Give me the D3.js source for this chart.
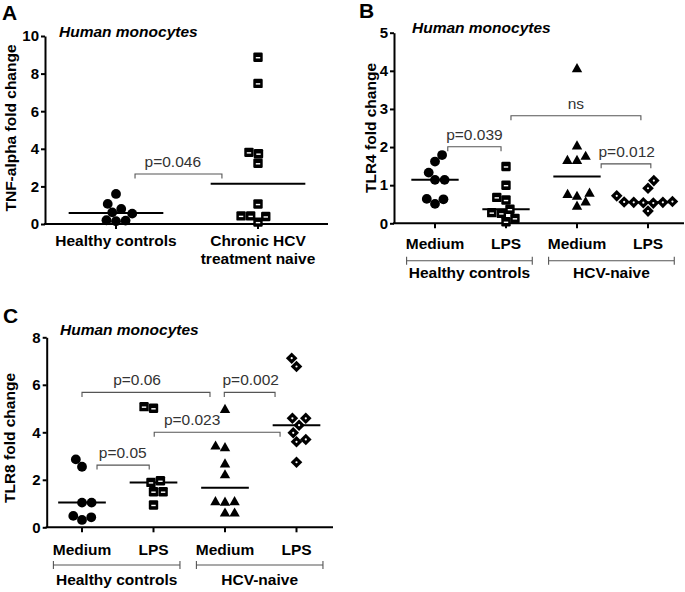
<!DOCTYPE html>
<html>
<head>
<meta charset="utf-8">
<script src="https://cdn.jsdelivr.net/npm/d3@7"></script>
<style>
  html, body { margin: 0; padding: 0; background: #fff; }
  svg { display: block; }
</style>
</head>
<body>
<svg id="chart" width="685" height="592"></svg>
<script>
// ---------------- DATA ----------------
// Panel A: TNF-alpha fold change
const panelA_categories = [["Healthy controls"], ["Chronic HCV", "treatment naive"]];
const panelA_healthy = [1.6, 1.07, 0.8, 0.62, 0.55, 0.2, 0.15, 0.18];
const panelA_chronic = [8.87, 7.48, 3.81, 3.74, 3.23, 1.06, 0.43, 0.1, 0.4, 0.43];
const panelA_ticks = [0, 2, 4, 6, 8, 10];
const panelA_brackets = [{ from: 0.134, to: 0.746, y: 2.66, label: "p=0.046", at: 0.40 }];

// Panel B: TLR4 fold change
const panelB_categories = [["Medium"], ["LPS"], ["Medium"], ["LPS"]];
const panelB_groups = [{ label: "Healthy controls", from: 0, to: 1 }, { label: "HCV-naive", from: 2, to: 3 }];
const panelB_hcMedium = [1.79, 1.62, 1.33, 1.14, 1.14, 0.64, 0.51, 0.63];
const panelB_hcLPS = [1.49, 1.0, 0.61, 0.68, 0.37, 0.26, 0.28, 0.04, 0.13];
const panelB_hcvMedium = [4.07, 2.04, 1.77, 1.66, 1.66, 0.72, 0.8, 0.77, 0.46, 0.57];
const panelB_hcvLPS = [1.12, 0.92, 0.72, 0.56, 0.55, 0.55, 0.54, 0.57, 0.53, 0.32];
const panelB_ticks = [0, 1, 2, 3, 4, 5];
const panelB_brackets = [
  { from: 0.18, to: 0.93, y: 2.01, label: "p=0.039", at: 0.555 },
  { from: 1.07, to: 2.90, y: 2.82, label: "ns", at: 1.985 },
  { from: 2.34, to: 3.04, y: 1.56, label: "p=0.012", at: 2.70 }
];

// Panel C: TLR8 fold change
const panelC_categories = [["Medium"], ["LPS"], ["Medium"], ["LPS"]];
const panelC_groups = [{ label: "Healthy controls", from: 0, to: 1 }, { label: "HCV-naive", from: 2, to: 3 }];
const panelC_hcMedium = [2.86, 2.55, 1.04, 1.04, 0.48, 0.31, 0.42];
const panelC_hcLPS = [5.01, 5.08, 1.96, 1.89, 1.5, 1.5, 0.94];
const panelC_hcvMedium = [4.98, 3.44, 3.37, 2.69, 2.23, 1.1, 1.08, 1.1, 0.62, 0.62];
const panelC_hcvLPS = [7.12, 6.77, 4.59, 4.59, 4.3, 3.7, 3.6, 3.98, 2.74];
const panelC_ticks = [0, 2, 4, 6, 8];
const panelC_brackets = [
  { from: 0.0, to: 1.79, y: 5.68, label: "p=0.06", at: 0.77 },
  { from: 1.99, to: 2.70, y: 5.68, label: "p=0.002", at: 2.36 },
  { from: 1.01, to: 2.77, y: 4.0, label: "p=0.023", at: 1.54 },
  { from: 0.21, to: 0.94, y: 2.62, label: "p=0.05", at: 0.57 }
];

// ---------------- DRAWING ----------------
const FONT = "'Liberation Sans', Arial, Helvetica, sans-serif";
const svg = d3.select("#chart");
svg.append("rect").attr("width", 685).attr("height", 592).attr("fill", "#fff");

function beeswarm(vals, y, d) {
  const pts = vals.map((v, i) => ({ v, y: y(v), i }));
  const order = pts.slice().sort((a, b) => a.v - b.v);
  const placed = [];
  let side = 1;
  for (const p of order) {
    const cands = [0];
    for (const q of placed) {
      const dy = Math.abs(q.y - p.y);
      if (dy < d) {
        const dx = Math.sqrt(d * d - dy * dy);
        cands.push(q.x + dx, q.x - dx);
      }
    }
    const ok = cands.filter(x => placed.every(q => (q.x - x) ** 2 + (q.y - p.y) ** 2 >= d * d - 0.01));
    ok.sort((a, b) => {
      const da = Math.abs(a), db = Math.abs(b);
      if (Math.abs(da - db) < 0.01) return side > 0 ? b - a : a - b;
      return da - db;
    });
    p.x = ok[0];
    if (Math.abs(p.x) > 0.01) side = -Math.sign(p.x);
    placed.push(p);
  }
  return pts;
}

function marker(g, shape, cx, cy) {
  if (shape === "circle") {
    g.append("circle").attr("cx", cx).attr("cy", cy).attr("r", 4.9).attr("fill", "#000");
  } else if (shape === "square") {
    g.append("rect").attr("x", cx - 4.7).attr("y", cy - 4.7).attr("width", 9.4).attr("height", 9.4)
      .attr("rx", 1.2).attr("fill", "#000");
    g.append("rect").attr("x", cx - 2.2).attr("y", cy - 0.2).attr("width", 4.4).attr("height", 1.4).attr("fill", "#fff");
  } else if (shape === "triangle") {
    g.append("path").attr("d", `M${cx},${cy - 5.2}L${cx + 5.2},${cy + 4}L${cx - 5.2},${cy + 4}Z`).attr("fill", "#000");
  } else if (shape === "diamond") {
    const r = 5.8;
    g.append("path").attr("d", `M${cx},${cy - r}L${cx + r},${cy}L${cx},${cy + r}L${cx - r},${cy}Z`).attr("fill", "#000");
    g.append("circle").attr("cx", cx).attr("cy", cy).attr("r", 1.1).attr("fill", "#fff");
  }
}

function drawPanel(cfg) {
  const g = svg.append("g");
  const y = d3.scaleLinear().domain([0, cfg.yMax]).range([cfg.y0, cfg.y1]);
  const x = d3.scaleLinear().domain([0, 1]).range([cfg.c0, cfg.c0 + cfg.step]);

  // panel letter
  g.append("text").attr("x", cfg.letter[0]).attr("y", cfg.letter[1]).text(cfg.letterText)
    .attr("font-family", FONT).attr("font-weight", "bold").attr("font-size", 21).attr("fill", "#000");
  // title
  g.append("text").attr("x", cfg.title[0]).attr("y", cfg.title[1]).text("Human monocytes")
    .attr("font-family", FONT).attr("font-weight", "bold").attr("font-style", "italic")
    .attr("font-size", 15.5).attr("fill", "#000");
  // y label
  g.append("text").attr("transform", `translate(${cfg.ylab[0]},${cfg.ylab[1]}) rotate(-90)`)
    .attr("text-anchor", "middle").text(cfg.yLabel)
    .attr("font-family", FONT).attr("font-weight", "bold").attr("font-size", 15.5).attr("fill", "#000");

  // y axis
  const ya = g.append("g").attr("transform", `translate(${cfg.ax},0)`)
    .call(d3.axisLeft(y).tickValues(cfg.ticks).tickFormat(d3.format("d")).tickSize(4).tickSizeOuter(0).tickPadding(2));
  ya.select(".domain").attr("stroke", "#000").attr("stroke-width", 2);
  ya.selectAll(".tick line").attr("stroke", "#000").attr("stroke-width", 2);
  ya.selectAll(".tick text").attr("font-family", FONT).attr("font-weight", "bold")
    .attr("font-size", 15).attr("fill", "#000");

  // x axis line
  g.append("line").attr("x1", cfg.ax - 1).attr("x2", cfg.axEnd).attr("y1", y(0)).attr("y2", y(0))
    .attr("stroke", "#000").attr("stroke-width", 2);

  cfg.categories.forEach((lines, i) => {
    g.append("line").attr("x1", x(i)).attr("x2", x(i)).attr("y1", y(0)).attr("y2", y(0) + 5)
      .attr("stroke", "#000").attr("stroke-width", 2);
    const t = g.append("text").attr("text-anchor", "middle")
      .attr("font-family", FONT).attr("font-weight", "bold").attr("font-size", 15.5).attr("fill", "#000");
    lines.forEach((ln, k) => {
      t.append("tspan").attr("x", x(i)).attr("y", y(0) + cfg.catDy + k * 18).text(ln);
    });
  });

  // group brackets
  (cfg.groups || []).forEach(gr => {
    const xa = x(gr.from - 0.4), xb = x(gr.to + 0.37), yy = y(0) + cfg.grpDy;
    g.append("path").attr("d", `M${xa},${yy - 4}V${yy + 4}M${xa},${yy}H${xb}M${xb},${yy - 4}V${yy + 4}`)
      .attr("fill", "none").attr("stroke", "#555").attr("stroke-width", 1.1);
    g.append("text").attr("x", (xa + xb) / 2).attr("y", y(0) + cfg.grpLabelDy).attr("text-anchor", "middle")
      .text(gr.label).attr("font-family", FONT).attr("font-weight", "bold").attr("font-size", 15.5).attr("fill", "#000");
  });

  // significance brackets
  cfg.brackets.forEach(b => {
    const yy = y(b.y);
    g.append("path").attr("d", `M${x(b.from)},${yy + 4.5}V${yy}H${x(b.to)}V${yy + 4.5}`)
      .attr("fill", "none").attr("stroke", "#555").attr("stroke-width", 1.1);
    g.append("text").attr("x", x(b.at)).attr("y", yy - 7).attr("text-anchor", "middle").text(b.label)
      .attr("font-family", FONT).attr("font-size", 15.5).attr("fill", "#333");
  });

  // points + median lines
  cfg.series.forEach((vals, i) => {
    const med = d3.median(vals);
    g.append("line").attr("x1", x(i) - cfg.step / 3).attr("x2", x(i) + cfg.step / 3)
      .attr("y1", y(med)).attr("y2", y(med)).attr("stroke", "#000").attr("stroke-width", 2);
    const pts = beeswarm(vals, y, 9.6);
    const mg = g.append("g");
    pts.forEach(p => marker(mg, cfg.shapes[i], x(i) + p.x, p.y));
  });
}

drawPanel({
  letterText: "A", letter: [2, 20], title: [59, 37], ylab: [16, 128], yLabel: "TNF-alpha fold change",
  ax: 45, axEnd: 328, y0: 224, y1: 36, yMax: 10, c0: 116, step: 142,
  ticks: panelA_ticks, categories: panelA_categories, catDy: 22,
  series: [panelA_healthy, panelA_chronic], shapes: ["circle", "square"],
  brackets: panelA_brackets
});

drawPanel({
  letterText: "B", letter: [359, 18], title: [412, 33], ylab: [376, 128], yLabel: "TLR4 fold change",
  ax: 394, axEnd: 684, y0: 223.3, y1: 32.7, yMax: 5, c0: 435, step: 71,
  ticks: panelB_ticks, categories: panelB_categories, catDy: 26, groups: panelB_groups, grpDy: 37.5, grpLabelDy: 55,
  series: [panelB_hcMedium, panelB_hcLPS, panelB_hcvMedium, panelB_hcvLPS],
  shapes: ["circle", "square", "triangle", "diamond"],
  brackets: panelB_brackets
});

drawPanel({
  letterText: "C", letter: [3, 323], title: [60, 335], ylab: [15, 438], yLabel: "TLR8 fold change",
  ax: 46.7, axEnd: 333, y0: 527.3, y1: 337.3, yMax: 8, c0: 82, step: 71.5,
  ticks: panelC_ticks, categories: panelC_categories, catDy: 27.5, groups: panelC_groups, grpDy: 37.7, grpLabelDy: 57.5,
  series: [panelC_hcMedium, panelC_hcLPS, panelC_hcvMedium, panelC_hcvLPS],
  shapes: ["circle", "square", "triangle", "diamond"],
  brackets: panelC_brackets
});
</script>
</body>
</html>
